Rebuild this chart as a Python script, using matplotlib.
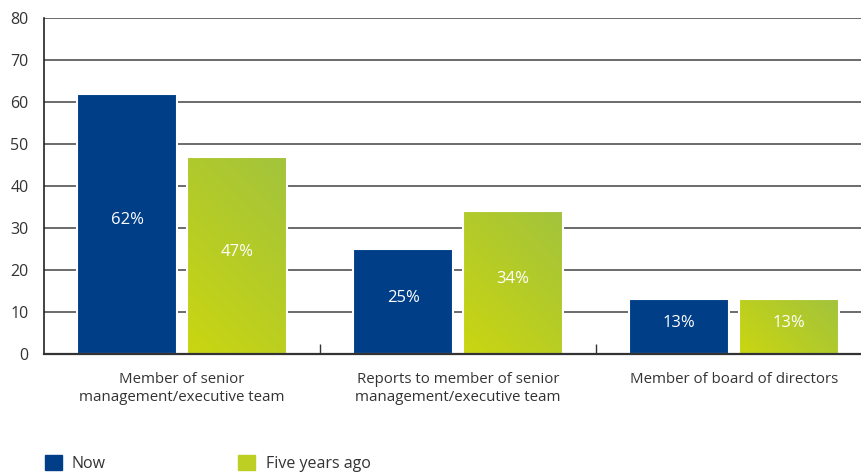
import matplotlib.pyplot as plt
import matplotlib.colors as mcolors
import numpy as np
from matplotlib.patches import Rectangle

plt.rcParams["font.family"] = ["Open Sans", "DejaVu Sans"]

categories = [
    "Member of senior\nmanagement/executive team",
    "Reports to member of senior\nmanagement/executive team",
    "Member of board of directors",
]
now = [62, 25, 13]
five_years_ago = [47, 34, 13]
series_names = ["Now", "Five years ago"]
yticks = [0, 10, 20, 30, 40, 50, 60, 70, 80]

BLUE = "#003f87"
GREEN_LOW = "#cad611"
GREEN_HIGH = "#a2c33c"
GRID = "#5f5f5f"
TEXT = "#333333"

green_cmap = mcolors.LinearSegmentedColormap.from_list("green", [GREEN_LOW, GREEN_HIGH])

fig = plt.figure(figsize=(8.62, 4.73), dpi=100)
ax = fig.add_axes([44 / 862, 1 - 354 / 473, 818 / 862, 336 / 473])

x = np.arange(len(categories))
width = 0.362
offset = 0.199

# horizontal grid
for t in yticks[1:]:
    ax.axhline(t, color=GRID, lw=1.3, zorder=1)

blue_bars = ax.bar(x - offset, now, width, color=BLUE, edgecolor="white",
                   linewidth=1.5, zorder=3)

# green bars carry a diagonal gradient, light-yellow at bottom-left
green_bars = ax.bar(x + offset, five_years_ago, width, color="none",
                    edgecolor="white", linewidth=1.5, zorder=4)
for bar in green_bars:
    x0, y0 = bar.get_x(), bar.get_y()
    w, h = bar.get_width(), bar.get_height()
    wpx = w * 276
    hpx = h * 4.2
    u = np.linspace(0, 1, 60)[None, :]
    v = np.linspace(0, 1, 120)[:, None]
    t = (u * wpx + v * hpx) / (wpx + hpx)
    ax.imshow(t, cmap=green_cmap, extent=[x0, x0 + w, y0, y0 + h],
              origin="lower", aspect="auto", zorder=3, vmin=0, vmax=1)
ax.set_xlim(-0.5, -0.5 + 818 / 276)
ax.set_ylim(0, 80)

for bars, vals in [(blue_bars, now), (green_bars, five_years_ago)]:
    for bar, v in zip(bars, vals):
        ax.text(bar.get_x() + bar.get_width() / 2, v / 2 + 0.9, f"{v}%",
                ha="center", va="center", color="white", fontsize=12, zorder=5)

ax.spines["top"].set_visible(False)
ax.spines["right"].set_visible(False)
ax.spines["left"].set_color("#222222")
ax.spines["left"].set_linewidth(1.2)
ax.spines["bottom"].set_color("#333333")
ax.spines["bottom"].set_linewidth(1.6)
ax.spines["bottom"].set_zorder(6)

ax.set_yticks(yticks)
ax.tick_params(axis="y", length=0, pad=11, labelsize=11.5, labelcolor=TEXT)

# category separators as inward ticks, labels centred under groups
ax.set_xticks([0.5, 1.5])
ax.set_xticklabels([])
ax.tick_params(axis="x", which="major", direction="in", length=7,
               width=1, color="#333333")
ax.set_xticks(x, minor=True)
ax.set_xticklabels(categories, minor=True, fontsize=10.8, color=TEXT,
                   linespacing=1.3)
ax.tick_params(axis="x", which="minor", length=0, pad=13)

# legend
fig.patches.append(Rectangle((45 / 862, 1 - 470 / 473), 17 / 862, 15 / 473,
                             transform=fig.transFigure, color=BLUE))
fig.text(72 / 862, 1 - 464 / 473, series_names[0], fontsize=11.5, color=TEXT,
         va="center")
fig.patches.append(Rectangle((238 / 862, 1 - 470 / 473), 17 / 862, 15 / 473,
                             transform=fig.transFigure, color="#bccf22"))
fig.text(266 / 862, 1 - 464 / 473, series_names[1], fontsize=11.5, color=TEXT,
         va="center")

fig.savefig("out.png", dpi=100)
